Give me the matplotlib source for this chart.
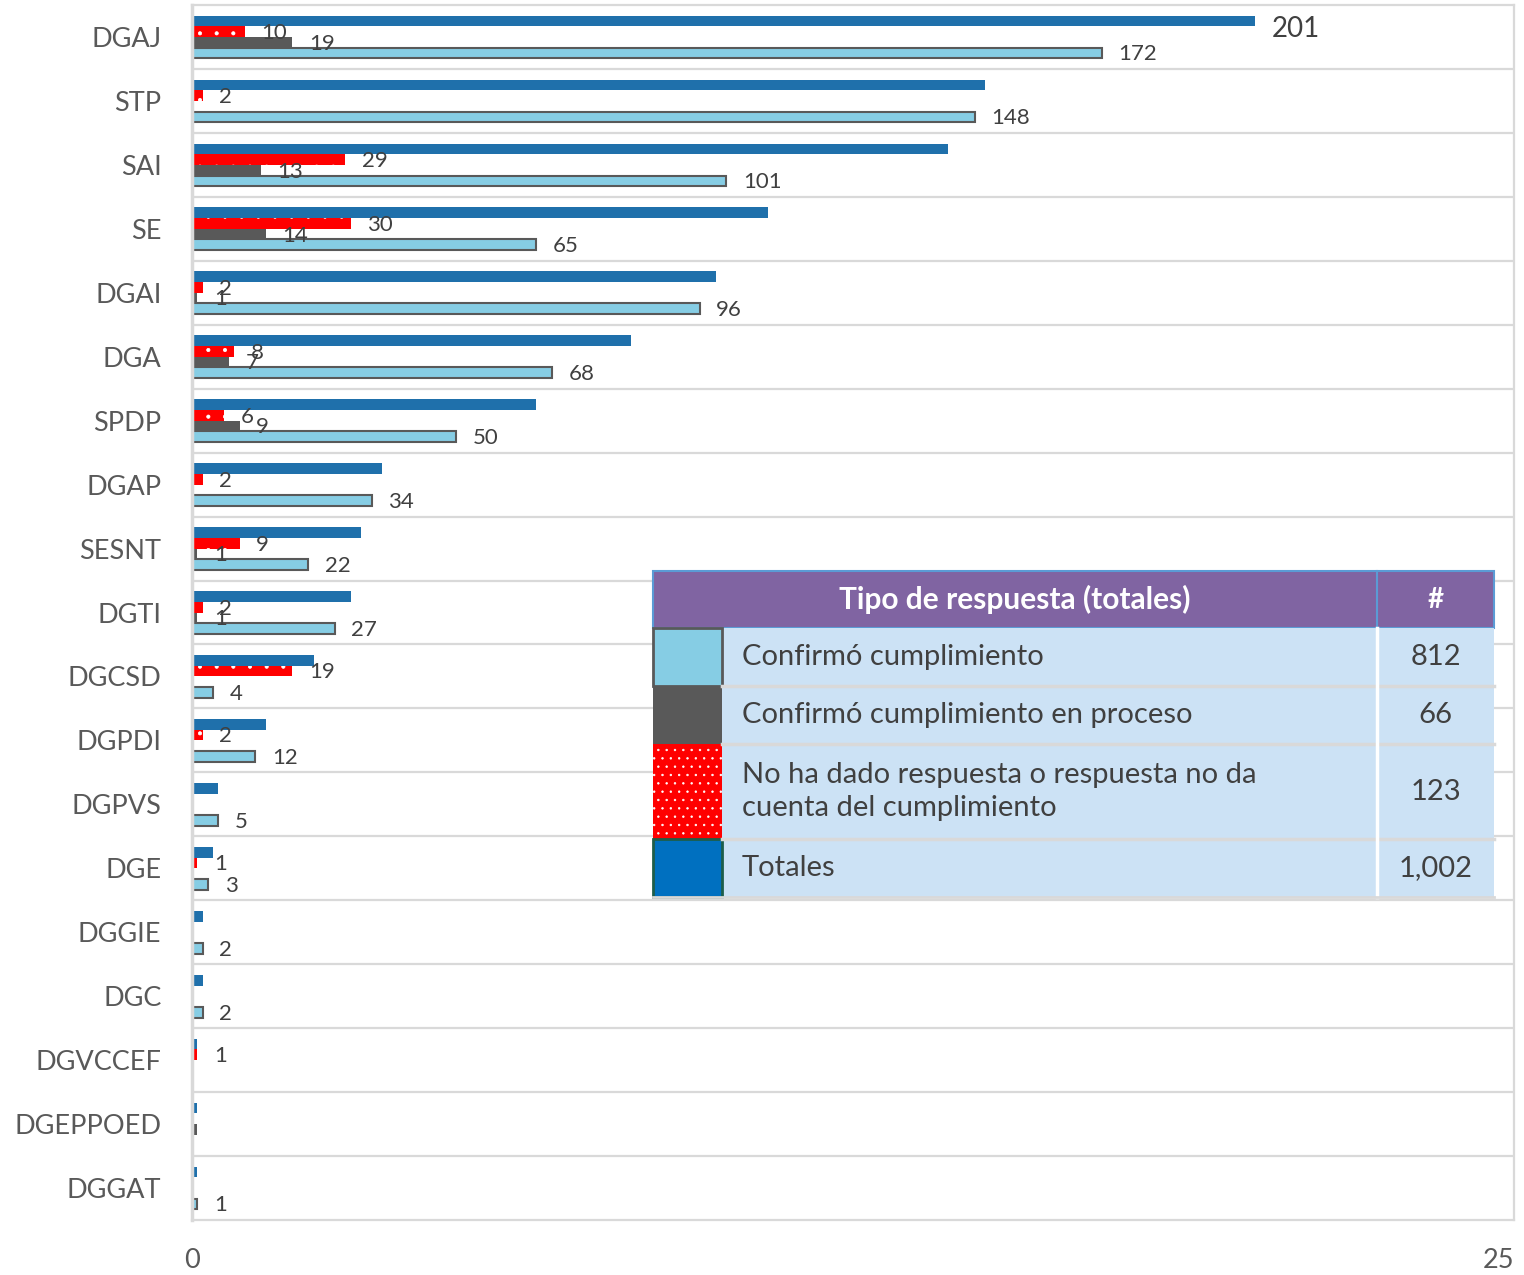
import matplotlib
matplotlib.use("Agg")
import matplotlib.pyplot as plt
from matplotlib.patches import Rectangle

plt.rcParams["font.family"] = ["Lato", "DejaVu Sans"]
plt.rcParams["hatch.linewidth"] = 0.5

categories = ["DGAJ", "STP", "SAI", "SE", "DGAI", "DGA", "SPDP", "DGAP", "SESNT", "DGTI",
              "DGCSD", "DGPDI", "DGPVS", "DGE", "DGGIE", "DGC", "DGVCCEF", "DGEPPOED", "DGGAT"]
totales = [201, 150, 143, 109, 99, 83, 65, 36, 32, 30, 23, 14, 5, 4, 2, 2, 1, 1, 1]
sin_respuesta = [10, 2, 29, 30, 2, 8, 6, 2, 9, 2, 19, 2, 0, 1, 0, 0, 1, 0, 0]
en_proceso = [19, 0, 13, 14, 1, 7, 9, 0, 1, 1, 0, 0, 0, 0, 0, 0, 0, 1, 0]
confirmo = [172, 148, 101, 65, 96, 68, 50, 34, 22, 27, 4, 12, 5, 3, 2, 2, 0, 0, 1]
# the source chart leaves this one bar without a data label
sin_etiqueta_proceso = ["DGEPPOED"]

legend_names = ["Confirmó cumplimiento", "Confirmó cumplimiento en proceso",
                "No ha dado respuesta o respuesta no da\ncuenta del cumplimiento", "Totales"]
legend_values = ["812", "66", "123", "1,002"]

C_TOTAL = "#1F70AB"
C_RED = "#FF0000"
C_GRAY = "#595959"
C_LIGHT = "#86CDE4"
TXT = "#404040"

W, H = 1524, 1275
fig = plt.figure(figsize=(W / 100, H / 100), dpi=100)
ax = fig.add_axes([192 / W, 1 - 1220 / H, (1514 - 192) / W, (1220 - 5) / H])

y = list(range(len(categories)))
h = 0.167
off = [-1.5 * h, -0.5 * h, 0.5 * h, 1.5 * h]

ax.barh([v + off[0] for v in y], totales, height=h, color=C_TOTAL, lw=0)
ax.barh([v + off[1] for v in y], sin_respuesta, height=h, color=C_RED,
        edgecolor="white", lw=0, hatch=".")
ax.barh([v + off[2] for v in y], en_proceso, height=h, color=C_GRAY, lw=0)
ax.barh([v + off[3] for v in y], confirmo, height=h, color=C_LIGHT,
        edgecolor=C_GRAY, lw=1.5)


def label(vals, k, skip=()):
    for i, v in enumerate(vals):
        if v and categories[i] not in skip:
            ax.annotate(str(v), (v, i + off[k]), xytext=(12, -1), textcoords="offset points",
                        va="center", ha="left", fontsize=16, color=TXT)


label(sin_respuesta, 1)
label(en_proceso, 2, sin_etiqueta_proceso)
label(confirmo, 3)
ax.annotate(str(totales[0]), (totales[0], off[0]), xytext=(12, -6), textcoords="offset points",
            va="center", ha="left", fontsize=20, color=TXT)

ax.set_xlim(0, 250)
ax.set_ylim(len(categories) - 0.5, -0.5)
ax.set_yticks(y)
ax.set_yticklabels(categories, fontsize=19.5, color=C_GRAY)
ax.set_xticks([0, 250])
ax.set_xticklabels(["0", "25"], fontsize=19.5, color=C_GRAY)
ax.get_xticklabels()[1].set_ha("right")
ax.tick_params(length=0, axis="y", pad=22)
ax.tick_params(length=0, axis="x", pad=20)
for i in range(len(categories) - 1):
    ax.axhline(i + 0.5, color="#D9D9D9", lw=1.6, zorder=0)
for s in ax.spines.values():
    s.set_color("#D9D9D9")
    s.set_linewidth(1.6)
ax.spines["left"].set_linewidth(2.5)


# summary table drawn in figure pixels
def fx(x):
    return x / W


def fy(yy):
    return 1 - yy / H


def rect(x0, y0, x1, y1, **kw):
    fig.patches.append(Rectangle((fx(x0), fy(y1)), fx(x1) - fx(x0), fy(y0) - fy(y1),
                                 transform=fig.transFigure, **kw))


tx0, tx1, tx2, tx3 = 653, 722, 1377, 1494
rows = [571, 628, 686, 744, 839, 897]
rect(tx0, rows[0], tx3, rows[1], facecolor="#8064A2", edgecolor="#5B9BD5", lw=1.5)
fig.add_artist(plt.Line2D([fx(tx2), fx(tx2)], [fy(rows[0]), fy(rows[1])], color="#5B9BD5", lw=1.5))
fig.text(fx((tx0 + tx2) / 2), fy((rows[0] + rows[1]) / 2), "Tipo de respuesta (totales)",
         color="white", fontsize=21.5, fontweight="bold", ha="center", va="center")
fig.text(fx((tx2 + tx3) / 2), fy((rows[0] + rows[1]) / 2), "#",
         color="white", fontsize=20, fontweight="bold", ha="center", va="center")

swatches = [dict(facecolor=C_LIGHT, edgecolor=C_GRAY, lw=2),
            dict(facecolor=C_GRAY, edgecolor=C_GRAY, lw=0),
            dict(facecolor=C_RED, edgecolor="white", lw=0, hatch=".."),
            dict(facecolor="#0070C0", edgecolor="#1E5E4A", lw=2)]
for r in range(4):
    y0, y1 = rows[r + 1], rows[r + 2]
    rect(tx1, y0, tx3, y1, facecolor="#CCE2F5", edgecolor="none")
    rect(tx0, y0, tx1, y1, **swatches[r])
    fig.text(fx(742), fy((y0 + y1) / 2), legend_names[r], color=TXT, fontsize=21,
             ha="left", va="center", linespacing=1.3)
    fig.text(fx((tx2 + tx3) / 2), fy((y0 + y1) / 2), legend_values[r], color=TXT, fontsize=21,
             ha="center", va="center")
    if r < 3:
        fig.add_artist(plt.Line2D([fx(tx1), fx(tx3)], [fy(y1), fy(y1)], color="#D9D9D9", lw=2.5))
fig.add_artist(plt.Line2D([fx(tx2), fx(tx2)], [fy(rows[1]), fy(rows[5])], color="white", lw=2.5))
fig.add_artist(plt.Line2D([fx(tx0), fx(tx3)], [fy(rows[5]), fy(rows[5])], color="#D9D9D9", lw=2))

fig.savefig("out.png", dpi=100)
